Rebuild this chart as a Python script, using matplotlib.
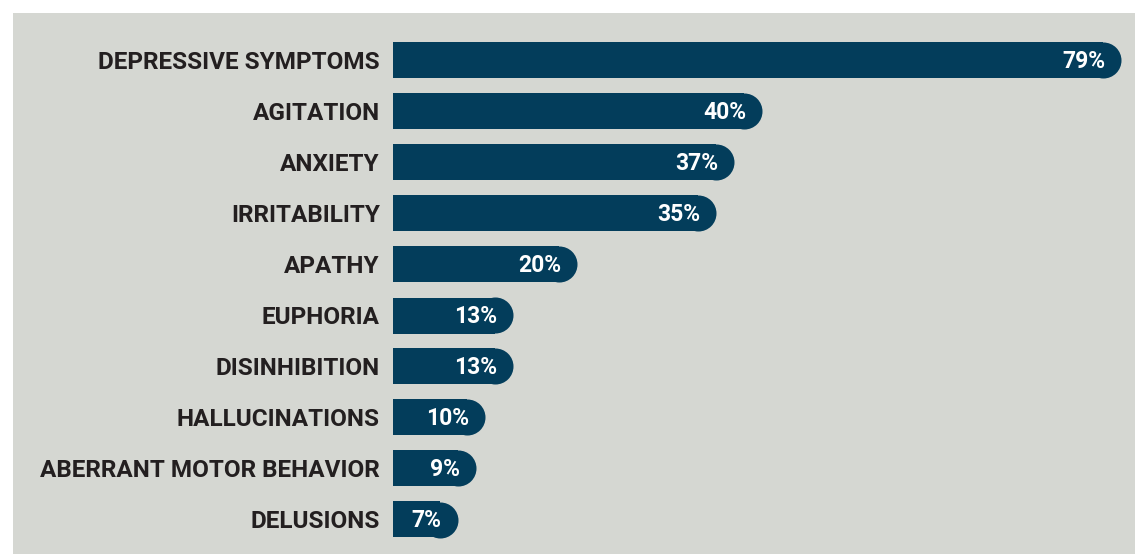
import matplotlib
matplotlib.use("Agg")
import matplotlib.pyplot as plt
from matplotlib.patches import Rectangle

categories = ["DEPRESSIVE SYMPTOMS", "AGITATION", "ANXIETY", "IRRITABILITY", "APATHY",
              "EUPHORIA", "DISINHIBITION", "HALLUCINATIONS", "ABERRANT MOTOR BEHAVIOR", "DELUSIONS"]
values = [79, 40, 37, 35, 20, 13, 13, 10, 9, 7]
value_labels = ["79%", "40%", "37%", "35%", "20%", "13%", "13%", "10%", "9%", "7%"]

W, H, DPI = 1135, 554, 100
BAR_COLOR = "#033D5B"
BG = "#D5D7D2"

fig = plt.figure(figsize=(W / DPI, H / DPI), dpi=DPI, facecolor="white")
fig.patches.append(Rectangle((13 / W, 0), 1 - 13 / W, (H - 13) / H,
                             transform=fig.transFigure, facecolor=BG, edgecolor="none", zorder=-5))

ax_left = 393 / W
ax_w = (W - 393) / W
ax = fig.add_axes([ax_left, 9 / H, ax_w, 510 / H])
ax.set_zorder(5)
ax.set_facecolor("none")
xmax = 80.5
ax.set_xlim(0, xmax)
ax.set_ylim(len(values) - 0.5, -0.5)

px_per_unit = (W - 393) / xmax
bar_px = 36
cap = (bar_px / 2) / px_per_unit
bar_h = bar_px / 51

ys = list(range(len(values)))
ax.barh(ys, [v - cap for v in values], height=bar_h, color=BAR_COLOR, left=0, zorder=2)
ax.plot([v - cap for v in values], ys, "o", ms=bar_px * 72 / DPI, color=BAR_COLOR,
        markeredgewidth=0, zorder=2, linestyle="none")

for y, v, lab in zip(ys, values, value_labels):
    ax.text(v - 1.7, y + 0.02, lab, ha="right", va="center", color="white",
            fontsize=16.5, fontweight="bold", family="Roboto", zorder=3)

ax.set_yticks(ys)
ax.set_yticklabels(categories, fontsize=17.5, fontweight=600, family="Roboto", color="#231F20")
ax.tick_params(axis="y", length=0, pad=9.5)
ax.set_xticks([])
for s in ax.spines.values():
    s.set_visible(False)

fig.savefig("out.png", dpi=DPI, facecolor="white")
